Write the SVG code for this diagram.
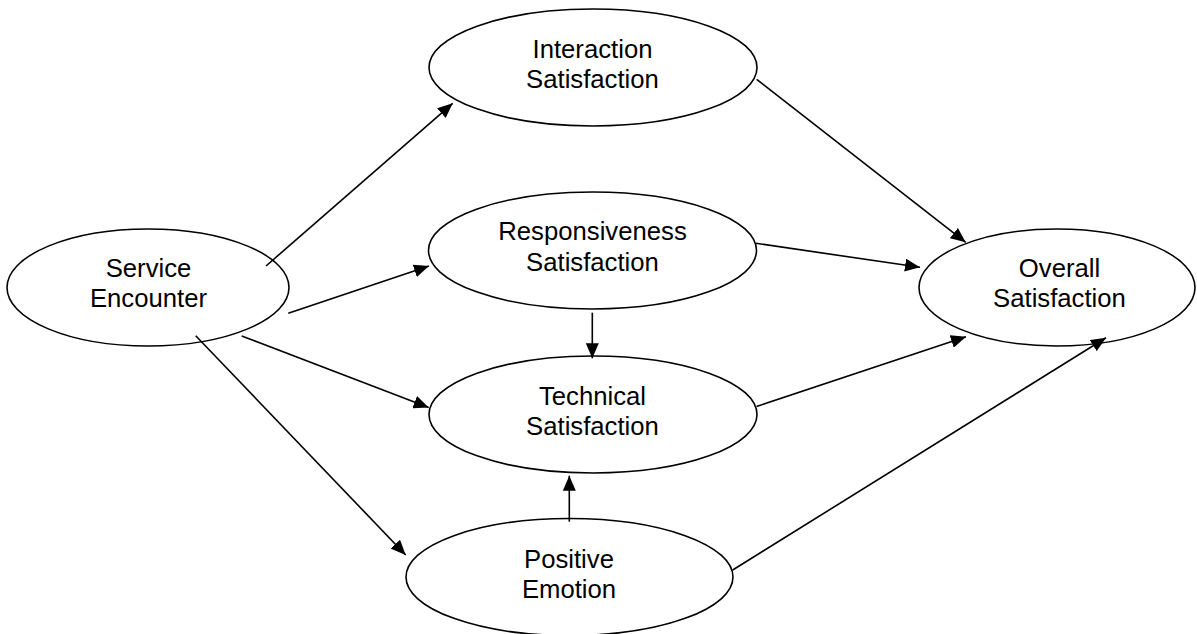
<svg xmlns="http://www.w3.org/2000/svg" width="1197" height="634" viewBox="0 0 1197 634">
<style>
.node ellipse{fill:#fff;stroke:#000;stroke-width:1.6}
.node text{font-family:"Liberation Sans",Arial,sans-serif;font-size:25.7px;fill:#000;text-anchor:middle}
.edge line{stroke:#000;stroke-width:1.6;marker-end:url(#ah)}
</style>
<defs>
<marker id="ah" markerUnits="userSpaceOnUse" markerWidth="16" markerHeight="13" refX="15" refY="6.5" orient="auto" viewBox="0 0 16 13">
<path d="M0,0 L15,6.5 L0,13 z" fill="#000"/>
</marker>
</defs>
<rect width="1197" height="634" fill="#fff"/>
<g id="nodes">
<g id="service" class="node"><ellipse cx="148" cy="287.5" rx="141" ry="58.5"/><text x="148.5" y="277">Service</text><text x="148.5" y="307">Encounter</text></g>
<g id="interaction" class="node"><ellipse cx="593" cy="67.5" rx="164" ry="58.5"/><text x="592.5" y="58">Interaction</text><text x="592.5" y="88">Satisfaction</text></g>
<g id="responsiveness" class="node"><ellipse cx="592.5" cy="250.5" rx="164" ry="58.5"/><text x="592.5" y="240">Responsiveness</text><text x="592.5" y="270.5">Satisfaction</text></g>
<g id="technical" class="node"><ellipse cx="593" cy="414.5" rx="164" ry="58.5"/><text x="592.5" y="404.5">Technical</text><text x="592.5" y="435">Satisfaction</text></g>
<g id="positive" class="node"><ellipse cx="569.5" cy="577" rx="163.5" ry="58.5"/><text x="569" y="568">Positive</text><text x="569" y="598">Emotion</text></g>
<g id="overall" class="node"><ellipse cx="1057" cy="287.5" rx="138" ry="58.5"/><text x="1059.5" y="277">Overall</text><text x="1059.5" y="307">Satisfaction</text></g>
</g>
<g id="connectors" class="edge">
<line x1="266" y1="266" x2="452.7" y2="103.3"/>
<line x1="288.3" y1="313.3" x2="429" y2="266"/>
<line x1="241.7" y1="336" x2="428.7" y2="407.5"/>
<line x1="195.7" y1="335.7" x2="405.7" y2="555"/>
<line x1="592.3" y1="312.7" x2="592.3" y2="358.3"/>
<line x1="569.3" y1="521.7" x2="569.3" y2="475.7"/>
<line x1="756.7" y1="79.3" x2="965.7" y2="242.3"/>
<line x1="756" y1="243.3" x2="920" y2="267.3"/>
<line x1="756.5" y1="406.5" x2="966" y2="336.7"/>
<line x1="732.7" y1="570" x2="1106" y2="337.7"/>
</g>
</svg>
